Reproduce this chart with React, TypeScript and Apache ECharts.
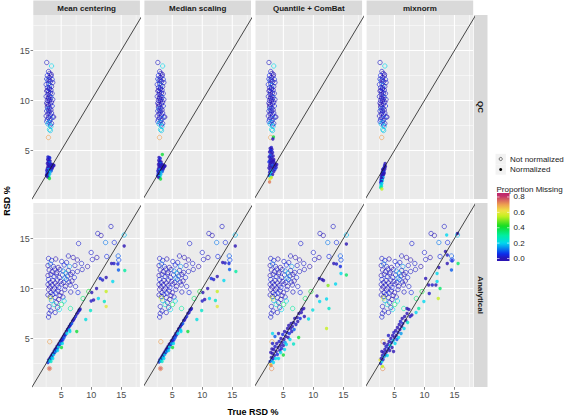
import React, { useEffect, useRef } from 'react';
import * as echarts from 'echarts';

// ---------- labels / scales ----------
const FACET_COLS = ['Mean centering', 'Median scaling', 'Quantile + ComBat', 'mixnorm'];
const FACET_ROWS = ['QC', 'Analytical'];
const AXIS_TICKS = [5, 10, 15];
const MINOR_GRID = [2.5, 7.5, 12.5, 17.5];
const X_RANGE = [0.36, 18.12];
const Y_RANGE = [0.15, 18.55];
const IDENTITY = [0, 20];
const LEGEND_TICKS = [0, 0.2, 0.4, 0.6, 0.8];
const SHAPE_LABELS = ['Not normalized', 'Normalized'];
const COLOR_TITLE = 'Proportion Missing';
const X_TITLE = 'True RSD %';
const Y_TITLE = 'RSD %';
const MISS_STOPS = [0, 0.06, 0.2, 0.3, 0.42, 0.55, 0.62, 0.7, 0.82];
const MISS_COLORS = ['#2A14B4', '#0C2CEC', '#00D8F0', '#00EEA0', '#12DC22', '#C6F020', '#F0E444', '#EEA050', '#C02A6C'];

// ---------- data: [true RSD %, RSD %, proportion missing] ----------
const qcRaw = [
  [2.6, 13.8, 0.02], [3.4, 13.45, 0.2], [2.9, 12.9, 0.03], [3.1, 12.7, 0.0], [2.7, 12.5, 0.05], [3.3, 12.45, 0.02],
  [3.0, 12.3, 0.0], [2.6, 12.15, 0.03], [3.5, 12.1, 0.05], [2.8, 12.0, 0.1], [3.2, 11.9, 0.0], [3.6, 11.8, 0.02],
  [2.9, 11.7, 0.0], [2.5, 11.6, 0.04], [3.1, 11.5, 0.12], [3.4, 11.4, 0.0], [2.7, 11.3, 0.02], [3.0, 11.15, 0.0],
  [3.3, 11.05, 0.03], [2.6, 10.95, 0.0], [2.9, 10.85, 0.06], [3.2, 10.75, 0.0], [3.5, 10.7, 0.02], [2.8, 10.6, 0.0],
  [3.1, 10.45, 0.0], [2.5, 10.4, 0.03], [3.3, 10.3, 0.1], [2.9, 10.2, 0.0], [3.6, 10.1, 0.02], [2.7, 10.0, 0.0],
  [3.0, 9.95, 0.04], [3.4, 9.85, 0.0], [2.6, 9.75, 0.02], [3.2, 9.65, 0.0], [2.9, 9.55, 0.0], [3.5, 9.45, 0.05],
  [2.7, 9.35, 0.0], [3.1, 9.25, 0.02], [2.8, 9.15, 0.12], [3.3, 9.05, 0.0], [2.6, 8.95, 0.03], [3.0, 8.85, 0.0],
  [3.4, 8.75, 0.02], [2.8, 8.65, 0.0], [3.2, 8.55, 0.05], [2.5, 8.45, 0.02], [3.6, 8.35, 0.03], [3.75, 8.35, 0.0],
  [2.9, 8.3, 0.0], [3.3, 8.2, 0.1], [2.7, 8.1, 0.02], [3.1, 8.0, 0.0], [2.6, 7.9, 0.05], [3.0, 7.8, 0.15],
  [3.4, 7.7, 0.02], [2.8, 7.65, 0.18], [3.2, 7.55, 0.03], [3.3, 7.4, 0.2], [3.05, 7.1, 0.22], [3.2, 7.0, 0.18],
  [2.88, 6.3, 0.7], [2.75, 11.0, 0.0], [3.15, 10.1, 0.0], [2.95, 9.0, 0.02], [3.35, 12.6, 0.0], [2.85, 10.3, 0.0],
  [3.05, 11.25, 0.03], [3.0, 12.05, 0.0], [2.7, 9.6, 0.0],
];
const qcMean = [
  [2.8, 4.35, 0.03], [3.0, 4.3, 0.0], [3.1, 4.25, 0.05], [2.75, 4.1, 0.0], [2.95, 4.0, 0.02], [3.15, 3.95, 0.0],
  [2.85, 3.85, 0.0], [3.05, 3.8, 0.1], [2.7, 3.7, 0.0], [3.3, 3.65, 0.0], [3.5, 3.6, 0.02], [2.9, 3.55, 0.0],
  [3.7, 3.55, 0.0], [3.1, 3.5, 0.03], [3.4, 3.45, 0.0], [2.8, 3.4, 0.0], [3.6, 3.4, 0.05], [3.0, 3.3, 0.0],
  [3.25, 3.25, 0.02], [2.7, 3.2, 0.0], [3.45, 3.15, 0.0], [2.9, 3.1, 0.15], [3.15, 3.05, 0.0], [2.6, 3.0, 0.02],
  [3.35, 2.95, 0.1], [2.8, 2.9, 0.0], [3.0, 2.85, 0.2], [2.65, 2.75, 0.05], [2.9, 2.7, 0.0], [3.1, 2.65, 0.18],
  [2.7, 2.6, 0.0], [2.55, 2.5, 0.02], [2.85, 2.45, 0.2], [2.95, 2.4, 0.25], [2.75, 2.35, 0.0], [3.05, 2.2, 0.4],
  [3.8, 3.5, 0.0], [3.55, 3.3, 0.0], [2.6, 2.55, 0.0],
];
const qcMedian = [
  [3.35, 4.6, 0.4], [2.8, 4.3, 0.0], [3.0, 4.2, 0.05], [2.75, 4.0, 0.0], [2.95, 3.9, 0.02], [3.15, 3.85, 0.0],
  [2.85, 3.75, 0.0], [3.05, 3.7, 0.1], [2.7, 3.6, 0.0], [3.3, 3.6, 0.0], [3.5, 3.55, 0.02], [2.9, 3.5, 0.0],
  [3.7, 3.45, 0.0], [3.1, 3.45, 0.03], [3.4, 3.4, 0.0], [2.8, 3.35, 0.0], [3.6, 3.35, 0.05], [3.0, 3.25, 0.0],
  [3.25, 3.2, 0.02], [2.7, 3.15, 0.0], [3.45, 3.1, 0.0], [2.9, 3.05, 0.15], [3.15, 3.0, 0.0], [2.6, 2.95, 0.02],
  [3.35, 2.9, 0.1], [2.8, 2.85, 0.0], [3.0, 2.8, 0.2], [2.65, 2.7, 0.05], [2.9, 2.65, 0.0], [3.1, 2.6, 0.18],
  [2.7, 2.55, 0.0], [2.55, 2.45, 0.02], [2.85, 2.4, 0.2], [2.95, 2.35, 0.25], [2.75, 2.3, 0.0], [3.05, 2.15, 0.4],
  [3.8, 3.45, 0.0], [3.55, 3.25, 0.0],
];
const qcQuantile = [
  [3.35, 6.35, 0.4], [3.25, 6.15, 0.0], [3.0, 5.3, 0.02], [2.8, 5.2, 0.0], [3.1, 5.1, 0.0], [2.9, 5.0, 0.05],
  [2.7, 4.85, 0.0], [3.2, 4.8, 0.02], [3.0, 4.65, 0.0], [2.8, 4.5, 0.1], [3.3, 4.45, 0.0], [2.65, 4.35, 0.0],
  [3.05, 4.3, 0.03], [2.9, 4.15, 0.0], [3.4, 4.1, 0.0], [2.75, 4.0, 0.02], [3.15, 3.95, 0.0], [2.6, 3.85, 0.05],
  [3.0, 3.8, 0.0], [3.55, 3.75, 0.0], [2.85, 3.7, 0.0], [3.3, 3.6, 0.02], [3.7, 3.55, 0.0], [2.7, 3.5, 0.0],
  [3.1, 3.45, 0.1], [3.5, 3.4, 0.0], [2.95, 3.35, 0.0], [3.8, 3.3, 0.02], [2.6, 3.25, 0.0], [3.25, 3.2, 0.0],
  [3.6, 3.1, 0.05], [2.8, 3.05, 0.0], [3.05, 2.95, 0.15], [3.4, 2.9, 0.0], [2.7, 2.8, 0.02], [2.95, 2.7, 0.2],
  [3.2, 2.6, 0.0], [2.65, 2.5, 0.05], [2.85, 2.4, 0.2], [3.0, 2.3, 0.55], [2.75, 2.15, 0.6], [2.7, 1.85, 0.74],
  [3.9, 3.6, 0.0], [3.35, 3.95, 0.0],
];
const qcMixnorm = [
  [3.45, 3.7, 0.0], [3.35, 3.5, 0.02], [3.5, 3.4, 0.0], [3.3, 3.3, 0.0], [3.2, 3.2, 0.05], [3.4, 3.15, 0.0],
  [3.1, 3.05, 0.0], [3.25, 2.95, 0.02], [3.0, 2.85, 0.0], [3.15, 2.8, 0.1], [2.95, 2.7, 0.0], [3.2, 2.6, 0.0],
  [2.85, 2.55, 0.02], [3.05, 2.5, 0.0], [2.9, 2.4, 0.0], [3.1, 2.3, 0.15], [2.8, 2.25, 0.0], [2.95, 2.15, 0.0],
  [2.75, 2.05, 0.03], [3.0, 2.0, 0.2], [2.85, 1.9, 0.0], [2.7, 1.8, 0.05], [2.9, 1.7, 0.2], [2.75, 1.55, 0.18],
  [2.85, 1.4, 0.25], [2.7, 1.3, 0.3], [3.3, 2.75, 0.0], [3.05, 3.1, 0.0], [2.9, 1.15, 0.55],
];
const anRaw = [
  [13.3, 16.2, 0.02], [11.1, 15.5, 0.02], [11.65, 15.3, 0.0], [15.5, 15.35, 0.18], [7.9, 14.5, 0.03],
  [12.4, 14.6, 0.12], [13.85, 14.6, 0.05], [10.0, 13.6, 0.03], [6.2, 13.25, 0.02], [7.0, 13.1, 0.0],
  [14.5, 13.25, 0.1], [14.6, 12.85, 0.08], [10.95, 13.1, 0.0], [10.2, 12.9, 0.02], [7.7, 12.85, 0.0],
  [8.4, 12.5, 0.03], [12.6, 13.2, 0.05], [8.5, 11.9, 0.02], [9.4, 12.2, 0.0],
  [2.9, 13.0, 0.02], [3.4, 12.8, 0.05], [4.1, 12.95, 0.0], [5.1, 12.7, 0.03], [5.9, 12.6, 0.02],
  [2.8, 12.3, 0.0], [3.2, 12.45, 0.12], [3.7, 12.2, 0.02], [4.5, 12.1, 0.0], [5.5, 12.35, 0.05], [6.4, 12.2, 0.15], [7.3, 12.3, 0.02],
  [3.0, 11.85, 0.02], [3.5, 11.7, 0.0], [3.9, 11.95, 0.03], [4.3, 11.6, 0.02], [4.8, 11.9, 0.0], [5.3, 11.75, 0.12],
  [5.8, 11.55, 0.2], [6.2, 11.8, 0.0], [6.9, 11.6, 0.03], [7.7, 11.7, 0.02],
  [2.8, 11.3, 0.0], [3.3, 11.4, 0.02], [3.8, 11.2, 0.05], [4.2, 11.45, 0.0], [4.7, 11.1, 0.03], [5.2, 11.35, 0.02],
  [5.6, 11.05, 0.15], [6.1, 11.25, 0.02], [6.6, 11.4, 0.0], [7.2, 11.1, 0.05],
  [2.9, 10.9, 0.05], [3.2, 10.6, 0.0], [3.6, 10.8, 0.02], [4.0, 10.55, 0.0], [4.4, 10.85, 0.03], [4.9, 10.7, 0.0],
  [5.4, 10.6, 0.02], [5.9, 10.9, 0.1], [6.3, 10.65, 0.02], [6.8, 10.75, 0.0],
  [2.8, 10.4, 0.02], [3.1, 10.15, 0.0], [3.5, 10.35, 0.03], [3.9, 10.05, 0.02], [4.3, 10.3, 0.0], [4.6, 10.1, 0.05],
  [5.1, 10.45, 0.02], [5.7, 10.2, 0.0], [6.5, 10.35, 0.02], [7.4, 10.2, 0.03],
  [2.9, 9.9, 0.0], [3.3, 9.6, 0.02], [3.7, 9.85, 0.0], [4.1, 9.55, 0.05], [4.5, 9.75, 0.02], [5.0, 9.6, 0.0],
  [5.6, 9.9, 0.03], [6.6, 9.65, 0.02], [7.8, 9.6, 0.05],
  [2.8, 9.35, 0.02], [3.2, 9.2, 0.0], [3.6, 9.4, 0.05], [4.0, 9.1, 0.02], [4.8, 9.3, 0.0], [5.3, 9.15, 0.03],
  [3.4, 8.8, 0.15], [4.2, 8.6, 0.02], [4.6, 8.9, 0.0], [5.5, 8.75, 0.2], [3.0, 8.2, 0.02], [3.8, 8.4, 0.25],
  [4.4, 8.1, 0.0], [3.3, 7.75, 0.03], [4.0, 7.6, 0.02], [4.7, 7.9, 0.2], [3.0, 7.5, 0.02], [2.9, 7.15, 0.03],
  [3.2, 9.05, 0.55], [5.05, 8.4, 0.35], [6.55, 8.0, 0.3], [8.65, 9.0, 0.35], [9.6, 9.7, 0.4],
  [3.1, 4.68, 0.7], [3.05, 2.0, 0.72],
];
const anMean = [
  [2.8, 2.6, 0.05], [2.9, 2.85, 0.0], [3.0, 2.75, 0.15], [3.1, 3.0, 0.0], [3.15, 2.9, 0.2], [3.25, 3.15, 0.0],
  [3.3, 3.05, 0.02], [3.4, 3.3, 0.0], [3.45, 3.1, 0.18], [3.55, 3.45, 0.0], [3.6, 3.35, 0.03], [3.7, 3.55, 0.0],
  [3.75, 3.4, 0.2], [3.85, 3.75, 0.0], [3.9, 3.6, 0.02], [4.0, 3.9, 0.0], [4.05, 3.7, 0.15], [4.15, 4.0, 0.0],
  [4.2, 3.85, 0.05], [4.3, 4.2, 0.0], [4.4, 4.05, 0.02], [4.5, 4.35, 0.0], [4.55, 4.15, 0.2], [4.65, 4.5, 0.0],
  [4.75, 4.4, 0.03], [4.85, 4.7, 0.0], [4.9, 4.5, 0.15], [5.0, 4.85, 0.0], [5.1, 4.7, 0.02], [5.2, 5.05, 0.0],
  [5.3, 4.9, 0.05], [5.4, 5.25, 0.0], [5.5, 5.1, 0.1], [5.6, 5.45, 0.0], [5.7, 5.35, 0.03], [5.85, 5.7, 0.0],
  [5.95, 5.5, 0.2], [6.05, 5.9, 0.0], [6.2, 6.0, 0.02], [6.35, 6.2, 0.0], [6.5, 6.3, 0.05], [6.6, 6.45, 0.0],
  [6.75, 6.5, 0.1], [6.9, 6.75, 0.0], [7.05, 6.85, 0.02], [7.2, 7.0, 0.0], [7.4, 7.2, 0.05], [7.6, 7.45, 0.0],
  [7.8, 7.6, 0.02], [7.95, 7.8, 0.0], [8.15, 7.95, 0.0], [6.4, 5.85, 0.2], [5.2, 4.5, 0.2], [4.4, 3.8, 0.2],
  [5.05, 4.1, 0.4], [6.45, 5.7, 0.2], [7.6, 5.7, 0.4], [3.6, 3.0, 0.2], [3.3, 2.7, 0.25], [3.05, 2.0, 0.76],
  [15.5, 14.25, 0.0], [13.4, 12.5, 0.0], [13.8, 12.5, 0.02], [14.45, 12.45, 0.05], [14.55, 11.85, 0.1],
  [15.6, 11.8, 0.3], [12.5, 11.1, 0.0], [11.5, 11.0, 0.05], [11.9, 10.85, 0.02], [10.9, 10.0, 0.0], [10.1, 9.6, 0.0],
  [12.5, 9.7, 0.55], [13.6, 10.7, 0.2], [10.4, 8.85, 0.0], [10.0, 8.75, 0.02], [11.2, 9.0, 0.2], [12.2, 8.7, 0.25],
  [12.5, 8.2, 0.6], [9.1, 6.9, 0.22], [8.1, 7.85, 0.02], [9.9, 7.8, 0.25],
];
const anMedian = [
  [2.8, 2.65, 0.05], [2.9, 2.85, 0.0], [3.0, 2.75, 0.15], [3.1, 3.0, 0.0], [3.15, 2.9, 0.2], [3.25, 3.15, 0.0],
  [3.3, 3.05, 0.02], [3.4, 3.3, 0.0], [3.45, 3.1, 0.18], [3.55, 3.45, 0.0], [3.6, 3.35, 0.03], [3.7, 3.6, 0.0],
  [3.75, 3.4, 0.2], [3.85, 3.75, 0.0], [3.9, 3.6, 0.02], [4.0, 3.9, 0.0], [4.05, 3.7, 0.15], [4.15, 4.05, 0.0],
  [4.2, 3.85, 0.05], [4.3, 4.2, 0.0], [4.4, 4.05, 0.02], [4.5, 4.4, 0.0], [4.55, 4.15, 0.2], [4.65, 4.5, 0.0],
  [4.75, 4.4, 0.03], [4.85, 4.75, 0.0], [4.9, 4.5, 0.15], [5.0, 4.85, 0.0], [5.1, 4.7, 0.02], [5.2, 5.1, 0.0],
  [5.3, 4.9, 0.05], [5.4, 5.25, 0.0], [5.5, 5.1, 0.1], [5.6, 5.5, 0.0], [5.7, 5.35, 0.03], [5.85, 5.7, 0.0],
  [5.95, 5.5, 0.2], [6.05, 5.95, 0.0], [6.2, 6.0, 0.02], [6.35, 6.2, 0.0], [6.5, 6.35, 0.05], [6.6, 6.45, 0.0],
  [6.75, 6.5, 0.1], [6.9, 6.8, 0.0], [7.05, 6.85, 0.02], [7.2, 7.05, 0.0], [7.4, 7.2, 0.05], [7.6, 7.5, 0.0],
  [7.8, 7.6, 0.02], [7.95, 7.85, 0.0], [8.2, 8.0, 0.0], [6.4, 5.85, 0.2], [5.2, 4.5, 0.2], [4.4, 3.8, 0.2],
  [5.05, 4.1, 0.4], [6.45, 5.7, 0.2], [7.6, 5.7, 0.4], [3.6, 3.0, 0.2], [3.3, 2.7, 0.25], [3.05, 2.0, 0.76],
  [15.5, 14.25, 0.0], [13.4, 12.6, 0.0], [13.8, 12.55, 0.02], [14.45, 12.5, 0.05], [14.55, 11.9, 0.1],
  [15.6, 11.7, 0.3], [12.5, 11.2, 0.0], [11.5, 11.0, 0.05], [11.9, 10.9, 0.02], [10.9, 10.0, 0.0], [10.1, 9.6, 0.0],
  [12.5, 9.7, 0.55], [13.6, 10.8, 0.2], [10.4, 8.9, 0.0], [10.0, 8.75, 0.02], [11.2, 9.0, 0.2], [12.2, 8.8, 0.25],
  [12.5, 8.2, 0.6], [9.1, 6.9, 0.22], [8.1, 7.9, 0.02], [9.9, 7.8, 0.25],
];
const anQuantile = [
  [15.5, 14.45, 0.0], [13.4, 12.5, 0.0], [13.85, 12.45, 0.02], [14.5, 12.2, 0.05], [14.6, 11.5, 0.2],
  [15.5, 11.35, 0.35], [11.45, 10.9, 0.0], [11.0, 11.0, 0.02], [11.7, 10.8, 0.0], [12.45, 10.3, 0.5],
  [13.7, 10.45, 0.2], [10.6, 9.25, 0.0], [11.05, 8.7, 0.2], [12.2, 8.95, 0.2], [9.9, 7.85, 0.22],
  [12.6, 8.0, 0.25], [8.1, 7.9, 0.0], [9.2, 6.95, 0.22], [12.2, 6.0, 0.55], [7.55, 5.1, 0.4],
  [6.7, 4.45, 0.25], [5.0, 3.35, 0.4], [5.2, 3.9, 0.2],
  [2.8, 2.7, 0.05], [2.9, 2.4, 0.6], [2.95, 2.3, 0.72], [3.0, 3.1, 0.0], [3.1, 2.8, 0.15], [3.2, 3.5, 0.0],
  [3.3, 3.0, 0.02], [3.35, 2.6, 0.2], [3.4, 3.9, 0.0], [3.5, 3.3, 0.0], [3.6, 5.2, 0.1], [3.6, 4.2, 0.02],
  [3.7, 3.0, 0.2], [3.8, 3.7, 0.0], [3.9, 4.5, 0.0], [4.0, 3.4, 0.05], [4.1, 4.1, 0.0], [4.2, 5.5, 0.0],
  [4.2, 3.0, 0.2], [4.3, 4.7, 0.02], [4.4, 3.8, 0.0], [4.5, 4.3, 0.0], [4.55, 3.6, 0.2], [4.6, 5.0, 0.0],
  [4.7, 4.0, 0.03], [4.8, 4.6, 0.0], [4.9, 5.4, 0.05], [5.0, 4.3, 0.0], [5.1, 4.9, 0.0], [5.2, 5.7, 0.0],
  [5.3, 4.6, 0.15], [5.4, 5.2, 0.0], [5.5, 4.4, 0.2], [5.6, 5.6, 0.02], [5.7, 6.0, 0.0], [5.8, 5.1, 0.0],
  [5.9, 6.3, 0.0], [6.0, 5.5, 0.05], [6.1, 4.9, 0.2], [6.2, 6.0, 0.0], [6.3, 6.5, 0.0], [6.4, 5.7, 0.02],
  [6.5, 6.2, 0.0], [6.7, 6.6, 0.0], [6.8, 5.9, 0.1], [6.9, 7.0, 0.0], [7.1, 6.4, 0.02], [7.3, 7.1, 0.0],
  [7.4, 6.7, 0.0], [7.6, 7.5, 0.0], [7.8, 7.0, 0.05], [8.0, 7.6, 0.0], [8.4, 8.0, 0.0], [8.5, 7.2, 0.0],
  [3.2, 4.5, 0.03], [2.9, 3.6, 0.0], [3.1, 3.95, 0.0], [3.2, 5.5, 0.2],
];
const anMixnorm = [
  [15.5, 15.5, 0.0], [13.7, 15.35, 0.2], [13.5, 13.7, 0.0], [13.8, 13.35, 0.02], [13.8, 12.5, 0.0],
  [14.6, 12.8, 0.05], [15.6, 12.5, 0.35], [14.5, 11.85, 0.1], [12.4, 12.1, 0.0], [12.1, 11.5, 0.2],
  [10.2, 11.0, 0.0], [10.7, 10.35, 0.0], [11.3, 10.35, 0.02], [11.9, 10.35, 0.0], [12.1, 10.7, 0.2],
  [12.6, 10.0, 0.35], [12.3, 9.0, 0.55], [9.9, 8.7, 0.2], [9.05, 8.0, 0.3], [7.9, 7.35, 0.0], [7.1, 8.0, 0.0],
  [10.8, 9.5, 0.02], [8.6, 7.6, 0.2],
  [2.6, 2.85, 0.6], [2.7, 2.5, 0.05], [2.8, 3.0, 0.0], [2.9, 2.7, 0.2], [3.0, 3.3, 0.0], [3.1, 2.9, 0.02],
  [3.2, 3.6, 0.0], [3.3, 3.2, 0.15], [3.4, 3.9, 0.0], [3.5, 3.4, 0.0], [3.6, 4.2, 0.02], [3.7, 3.7, 0.0],
  [3.8, 3.3, 0.2], [3.9, 4.4, 0.0], [4.0, 4.0, 0.05], [4.1, 4.7, 0.0], [4.2, 3.8, 0.0], [4.3, 4.3, 0.2],
  [4.4, 5.0, 0.0], [4.5, 4.6, 0.02], [4.6, 4.1, 0.0], [4.7, 5.3, 0.0], [4.8, 4.8, 0.15], [4.85, 3.7, 0.0],
  [4.9, 5.6, 0.02], [5.0, 5.1, 0.0], [5.1, 4.5, 0.2], [5.2, 5.8, 0.0], [5.3, 5.3, 0.0], [5.4, 4.9, 0.1],
  [5.5, 6.1, 0.0], [5.6, 5.6, 0.02], [5.7, 5.1, 0.2], [5.8, 6.4, 0.0], [5.9, 5.9, 0.0], [6.0, 6.7, 0.03],
  [6.1, 5.5, 0.15], [6.2, 6.2, 0.0], [6.3, 7.0, 0.0], [6.4, 6.5, 0.02], [6.6, 6.0, 0.2], [6.7, 7.2, 0.0],
  [6.9, 6.8, 0.0], [7.1, 7.5, 0.0], [7.2, 6.6, 0.25], [7.4, 7.9, 0.0], [7.6, 7.2, 0.02], [3.0, 2.2, 0.55],
  [2.9, 3.7, 0.0], [3.3, 4.5, 0.0], [4.0, 5.3, 0.02],
];

const RAW_BY_ROW = [qcRaw, anRaw];
const NORM_BY_PANEL = [
  [qcMean, qcMedian, qcQuantile, qcMixnorm],
  [anMean, anMedian, anQuantile, anMixnorm],
];

// ---------- helpers ----------
const FONT = '"Liberation Sans", Arial, Helvetica, sans-serif';
function hexToRgb(h: string) {
  const n = parseInt(h.slice(1), 16);
  return [(n >> 16) & 255, (n >> 8) & 255, n & 255];
}
function missColor(m: number): string {
  const s = MISS_STOPS;
  const c = MISS_COLORS;
  if (m <= s[0]) return c[0];
  if (m >= s[s.length - 1]) return c[c.length - 1];
  for (let i = 1; i < s.length; i++) {
    if (m <= s[i]) {
      const t = (m - s[i - 1]) / (s[i] - s[i - 1]);
      const a = hexToRgb(c[i - 1]);
      const b = hexToRgb(c[i]);
      const r = a.map((v, k) => Math.round(v + (b[k] - v) * t));
      return `rgb(${r[0]},${r[1]},${r[2]})`;
    }
  }
  return c[c.length - 1];
}

// ---------- layout ----------
const PANEL_LEFT = [33.3, 144.4, 255.5, 366.6];
const PANEL_W = 106.6;
const PANEL_TOP = [15, 203];
const PANEL_H = 184;
const STRIP_R_X = 473.9;
const STRIP_R_W = 13.6;

export default function App() {
  const ref = useRef<HTMLDivElement>(null);
  useEffect(() => {
    if (!ref.current) return;
    const chart = echarts.init(ref.current, undefined, { renderer: 'svg' });

    const grid: any[] = [];
    const xAxis: any[] = [];
    const yAxis: any[] = [];
    const series: any[] = [];
    const gridData = [...AXIS_TICKS.map((v) => [v, 1]), ...MINOR_GRID.map((v) => [v, 0])];

    for (let r = 0; r < 2; r++) {
      for (let c = 0; c < 4; c++) {
        const p = r * 4 + c;
        const isLeft = c === 0;
        const isBottom = r === 1;
        grid.push({
          left: PANEL_LEFT[c], top: PANEL_TOP[r], width: PANEL_W, height: PANEL_H,
          show: true, backgroundColor: '#EBEBEB', borderWidth: 0,
        });
        xAxis.push({
          type: 'value', gridIndex: p, min: X_RANGE[0], max: X_RANGE[1], splitNumber: 4,
          axisLine: { show: false },
          axisTick: { show: isBottom, length: 2.75, lineStyle: { color: '#333333', width: 0.6 }, customValues: AXIS_TICKS },
          axisLabel: {
            show: isBottom, customValues: AXIS_TICKS, color: '#4D4D4D', fontSize: 9, fontFamily: FONT, margin: 3,
            formatter: (v: number) => (AXIS_TICKS.includes(v) ? String(v) : ''),
          },
          splitLine: { show: false },
        });
        yAxis.push({
          type: 'value', gridIndex: p, min: Y_RANGE[0], max: Y_RANGE[1], splitNumber: 4,
          axisLine: { show: false },
          axisTick: { show: isLeft, length: 2.75, lineStyle: { color: '#333333', width: 0.6 }, customValues: AXIS_TICKS },
          axisLabel: {
            show: isLeft, customValues: AXIS_TICKS, color: '#4D4D4D', fontSize: 9, fontFamily: FONT, margin: 3.5,
            formatter: (v: number) => (AXIS_TICKS.includes(v) ? String(v) : ''),
          },
          splitLine: { show: false },
        });
        series.push({
          type: 'custom', xAxisIndex: p, yAxisIndex: p, z: 1, silent: true,
          data: gridData,
          renderItem: (params: any, api: any) => {
            const v = api.value(0);
            const major = api.value(1) === 1;
            const cs = params.coordSys;
            const px = api.coord([v, Y_RANGE[0]])[0];
            const py = api.coord([X_RANGE[0], v])[1];
            const style = { stroke: '#FFFFFF', lineWidth: major ? 1.05 : 0.5 };
            const children: any[] = [];
            if (v > X_RANGE[0] && v < X_RANGE[1]) {
              children.push({ type: 'line', shape: { x1: px, y1: cs.y, x2: px, y2: cs.y + cs.height }, style });
            }
            if (v > Y_RANGE[0] && v < Y_RANGE[1]) {
              children.push({ type: 'line', shape: { x1: cs.x, y1: py, x2: cs.x + cs.width, y2: py }, style });
            }
            return { type: 'group', children };
          },
        });
        series.push({
          type: 'scatter', name: SHAPE_LABELS[0], xAxisIndex: p, yAxisIndex: p, z: 2, silent: true,
          symbol: 'circle', symbolSize: 4.4,
          data: RAW_BY_ROW[r].map(([x, y, m]) => ({
            value: [x, y, m],
            itemStyle: { color: 'rgba(0,0,0,0)', borderColor: missColor(m), borderWidth: 0.8 },
          })),
        });
        series.push({
          type: 'scatter', name: SHAPE_LABELS[1], xAxisIndex: p, yAxisIndex: p, z: 2, silent: true,
          symbol: 'circle', symbolSize: 3.4,
          data: NORM_BY_PANEL[r][c].map(([x, y, m]) => ({
            value: [x, y, m],
            itemStyle: { color: missColor(m) },
          })),
        });
        series.push({
          type: 'line', xAxisIndex: p, yAxisIndex: p, z: 3, silent: true, symbol: 'none',
          lineStyle: { color: '#1A1A1A', width: 0.8 },
          data: IDENTITY.map((v) => [v, v]),
        });
      }
    }

    const graphic: any[] = [];
    // top strips
    FACET_COLS.forEach((name, c) => {
      graphic.push({ type: 'rect', shape: { x: PANEL_LEFT[c], y: 0.5, width: PANEL_W, height: 14.5 }, style: { fill: '#D9D9D9' }, silent: true });
      graphic.push({
        type: 'text', x: PANEL_LEFT[c] + PANEL_W / 2, y: 8.2, silent: true,
        style: { text: name, fill: '#1A1A1A', fontSize: 8, fontWeight: 'bold', fontFamily: FONT, align: 'center', verticalAlign: 'middle' },
      });
    });
    // right strips
    FACET_ROWS.forEach((name, r) => {
      graphic.push({ type: 'rect', shape: { x: STRIP_R_X, y: PANEL_TOP[r], width: STRIP_R_W, height: PANEL_H }, style: { fill: '#D9D9D9' }, silent: true });
      graphic.push({
        type: 'text', x: STRIP_R_X + STRIP_R_W / 2, y: PANEL_TOP[r] + PANEL_H / 2, rotation: -Math.PI / 2, silent: true,
        style: { text: name, fill: '#1A1A1A', fontSize: 8, fontWeight: 'bold', fontFamily: FONT, align: 'center', verticalAlign: 'middle' },
      });
    });
    // axis titles
    graphic.push({
      type: 'text', x: 253, y: 411.5, silent: true,
      style: { text: X_TITLE, fill: '#000000', fontSize: 9, fontWeight: 'bold', fontFamily: FONT, align: 'center', verticalAlign: 'middle' },
    });
    graphic.push({
      type: 'text', x: 6.5, y: 201, rotation: Math.PI / 2, silent: true,
      style: { text: Y_TITLE, fill: '#000000', fontSize: 9, fontWeight: 'bold', fontFamily: FONT, align: 'center', verticalAlign: 'middle' },
    });
    // shape legend
    const keyY = [159, 169.5];
    SHAPE_LABELS.forEach((label, i) => {
      graphic.push({ type: 'rect', shape: { x: 495.5, y: keyY[i] - 5.2, width: 10.4, height: 10.4 }, style: { fill: '#F2F2F2' }, silent: true });
      if (i === 0) {
        graphic.push({ type: 'circle', shape: { cx: 500.7, cy: keyY[i], r: 1.6 }, style: { fill: 'none', stroke: '#1A1A1A', lineWidth: 0.6 }, silent: true });
      } else {
        graphic.push({ type: 'circle', shape: { cx: 500.7, cy: keyY[i], r: 1.5 }, style: { fill: '#000000' }, silent: true });
      }
      graphic.push({
        type: 'text', x: 510, y: keyY[i], silent: true,
        style: { text: label, fill: '#1A1A1A', fontSize: 8, fontFamily: FONT, align: 'left', verticalAlign: 'middle' },
      });
    });
    // colour legend
    graphic.push({
      type: 'text', x: 496.5, y: 189.5, silent: true,
      style: { text: COLOR_TITLE, fill: '#1A1A1A', fontSize: 8, fontFamily: FONT, align: 'left', verticalAlign: 'middle' },
    });
    const barTop = 193;
    const barBottom = 261;
    const zeroY = 258.5;
    const pxPerUnit = 76.9;
    const vTop = (zeroY - barTop) / pxPerUnit;
    const vBottom = (zeroY - barBottom) / pxPerUnit;
    const stops: any[] = [];
    for (let k = 0; k <= 40; k++) {
      // offset 0 = top of bar, 1 = bottom
      const v = vTop - ((vTop - vBottom) * k) / 40;
      stops.push({ offset: k / 40, color: missColor(Math.max(0, v)) });
    }
    graphic.push({
      type: 'rect', shape: { x: 497, y: barTop, width: 12.5, height: barBottom - barTop }, silent: true,
      style: { fill: new echarts.graphic.LinearGradient(0, 0, 0, 1, stops) },
    });
    LEGEND_TICKS.forEach((t) => {
      const y = zeroY - t * pxPerUnit;
      graphic.push({ type: 'line', shape: { x1: 497, y1: y, x2: 499.5, y2: y }, style: { stroke: '#FFFFFF', lineWidth: 0.6 }, silent: true });
      graphic.push({ type: 'line', shape: { x1: 507, y1: y, x2: 509.5, y2: y }, style: { stroke: '#FFFFFF', lineWidth: 0.6 }, silent: true });
      graphic.push({
        type: 'text', x: 513.5, y, silent: true,
        style: { text: t.toFixed(1), fill: '#1A1A1A', fontSize: 8, fontFamily: FONT, align: 'left', verticalAlign: 'middle' },
      });
    });

    chart.setOption({
      animation: false,
      backgroundColor: '#FFFFFF',
      textStyle: { fontFamily: FONT },
      grid, xAxis, yAxis, series, graphic,
    });
    return () => chart.dispose();
  }, []);

  return (
    <div
      ref={ref}
      style={{ position: 'fixed', left: 0, top: 0, width: 567, height: 418, background: '#FFFFFF' }}
    />
  );
}
